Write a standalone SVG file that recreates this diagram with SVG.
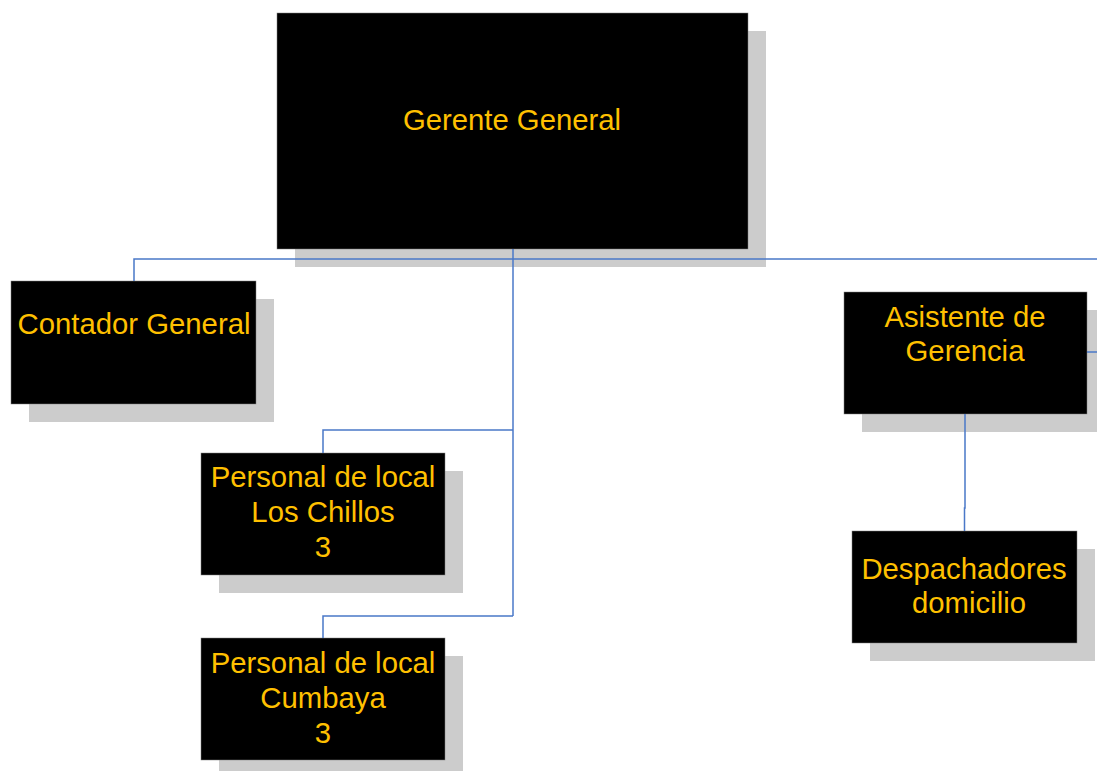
<svg xmlns="http://www.w3.org/2000/svg" width="1097" height="771" viewBox="0 0 1097 771">
<style>
.sh{fill:#cccccc}
.bx{fill:#000000;stroke:#7f7f7f;stroke-width:0.5}
.t{font-family:"Liberation Sans",Arial,sans-serif;font-size:29.3px;fill:#FFC000;text-anchor:middle}
.c{fill:none;stroke:#4a78c8;stroke-width:1.5}
</style>
<rect width="1097" height="771" fill="#ffffff"/>
<g id="gerente">
<rect class="sh" x="295" y="31" width="471" height="236"/>
<rect class="bx" x="277" y="13" width="471" height="236"/>
<text class="t" x="512" y="130">Gerente General</text>
</g>
<g id="contador">
<rect class="sh" x="29" y="299" width="245" height="123"/>
<rect class="bx" x="11" y="281" width="245" height="123"/>
<text class="t" x="134" y="334">Contador General</text>
</g>
<g id="asistente">
<rect class="sh" x="862" y="310" width="243" height="122"/>
<rect class="bx" x="844" y="292" width="243" height="122"/>
<text class="t" x="965" y="327">Asistente de</text>
<text class="t" x="965" y="361">Gerencia</text>
</g>
<g id="chillos">
<rect class="sh" x="219" y="471" width="244" height="122"/>
<rect class="bx" x="201" y="453" width="244" height="122"/>
<text class="t" x="323" y="487">Personal de local</text>
<text class="t" x="323" y="522">Los Chillos</text>
<text class="t" x="323" y="557">3</text>
</g>
<g id="cumbaya">
<rect class="sh" x="219" y="656" width="244" height="122"/>
<rect class="bx" x="201" y="638" width="244" height="122"/>
<text class="t" x="323" y="673">Personal de local</text>
<text class="t" x="323" y="708">Cumbaya</text>
<text class="t" x="323" y="743">3</text>
</g>
<g id="despachadores">
<rect class="sh" x="870" y="549" width="225" height="112"/>
<rect class="bx" x="852" y="531" width="225" height="112"/>
<text class="t" x="964" y="579">Despachadores</text>
<text class="t" x="969" y="613">domicilio</text>
</g>
<g id="connectors">
<path class="c" d="M513,249 V616"/>
<path class="c" d="M134,281 V259 H1097"/>
<path class="c" d="M513,430 H323 V453"/>
<path class="c" d="M513,616 H323 V638"/>
<path class="c" d="M965,414 V508 H964.5 V531"/>
<path class="c" d="M1087,352 H1097"/>
</g>
</svg>
